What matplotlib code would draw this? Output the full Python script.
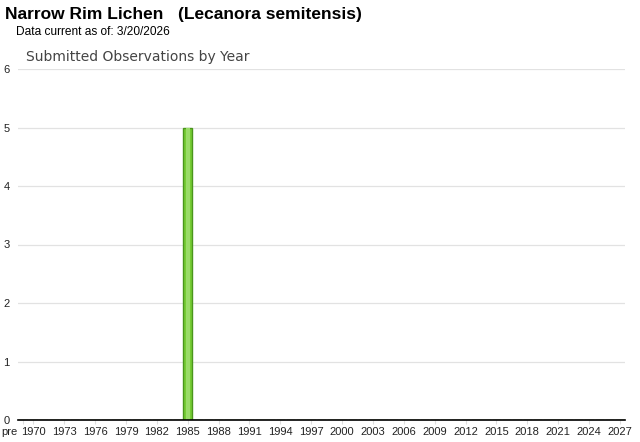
import matplotlib.pyplot as plt
import matplotlib.transforms as mtransforms
import numpy as np

plt.rcParams["font.family"] = ["Liberation Sans", "DejaVu Sans"]

# categories: "pre" bucket then every year 1970-2027
years = ["pre"] + [str(y) for y in range(1970, 2028)]
counts = [0] * len(years)
counts[years.index("1985")] = 5

shown_labels = ["pre"] + [str(y) for y in range(1970, 2028, 3)]
y_ticks = [0, 1, 2, 3, 4, 5, 6]

fig = plt.figure(figsize=(6.4, 4.42), dpi=100)
ax = fig.add_axes([18 / 640, 1 - 420 / 442, 607 / 640, 351 / 442])

x = np.arange(len(years))
ax.bar(x, counts, width=0.92, color="#76cc34", edgecolor="#4a961c", linewidth=1.0, zorder=3)
# lighter sheen inside the bar
ax.bar(x, counts, width=0.35, color="#9adc68", linewidth=0, zorder=4)

ax.set_xlim(-0.5, len(years) - 0.5)
ax.set_ylim(0, 6)
ax.set_yticks(y_ticks)
ax.set_yticklabels([str(v) for v in y_ticks], fontsize=8, color="#222222")
ax.grid(axis="y", color="#e2e2e2", linewidth=0.9, zorder=0)
ax.set_axisbelow(True)

ticks = [years.index(lbl) for lbl in shown_labels]
ax.set_xticks(ticks)
# "pre" is drawn separately, pushed left so it doesn't hit 1970
ax.set_xticklabels([""] + shown_labels[1:], fontsize=8, color="#222222")
ax.tick_params(axis="x", length=3, color="#dddddd", pad=2)
ax.tick_params(axis="y", length=0, pad=6)
pre_tr = ax.get_xaxis_transform() + mtransforms.ScaledTranslation(0, -5 / 72, fig.dpi_scale_trans)
ax.text(-0.55, 0, shown_labels[0], transform=pre_tr, fontsize=8, color="#222222",
        ha="right", va="top")

for s in ["top", "right", "left"]:
    ax.spines[s].set_visible(False)
ax.spines["bottom"].set_color("black")
ax.spines["bottom"].set_linewidth(1.2)
ax.spines["bottom"].set_zorder(5)

fig.text(5 / 640, 1 - 15 / 442, "Narrow Rim Lichen   (Lecanora semitensis)",
         fontsize=12.5, fontweight="bold", va="center", ha="left")
fig.text(16 / 640, 1 - 32 / 442, "Data current as of: 3/20/2026",
         fontsize=8.6, va="center", ha="left")
fig.text(26 / 640, 1 - 57 / 442, "Submitted Observations by Year",
         fontsize=10, color="#444444", va="center", ha="left", family=["DejaVu Sans"])

fig.savefig("out.png", dpi=100)
